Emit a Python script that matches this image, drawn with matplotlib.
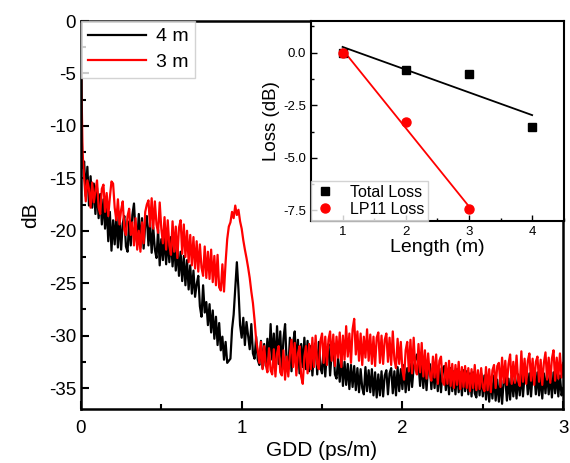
import numpy as np
import matplotlib
matplotlib.use("Agg")
import matplotlib.pyplot as plt
from matplotlib.ticker import MultipleLocator, FormatStrFormatter

plt.rcParams['font.family'] = ['Liberation Sans', 'DejaVu Sans']
plt.rcParams['axes.unicode_minus'] = False

# ---------------- main spectra data (GDD sampled every 0.01 ps/m) ----------------
gdd = np.round(np.arange(0, 301) * 0.01, 2)

db_3m = [
    -3.0, -12.5, -15.0, -17.2, -15.2, -16.0, -17.8, -15.4, -17.3, -16.2,
    -15.2, -17.8, -18.4, -16.0, -15.6, -18.2, -16.4, -18.6, -16.8, -15.3,
    -15.5, -17.8, -19.0, -17.0, -19.4, -18.0, -17.2, -19.9, -20.4, -18.6,
    -17.9, -20.4, -19.2, -21.4, -18.8, -21.8, -20.0, -22.0, -19.2, -21.2,
    -18.2, -17.5, -17.1, -19.6, -16.9, -19.8, -17.2, -19.4, -20.2, -17.3,
    -19.8, -21.2, -18.7, -21.8, -19.0, -21.4, -22.3, -19.1, -22.0, -19.6,
    -22.6, -19.7, -19.0, -22.2, -19.4, -22.5, -20.0, -23.0, -20.4, -23.3,
    -20.6, -23.6, -21.0, -23.9, -21.3, -23.5, -24.3, -21.5, -24.5, -22.0,
    -24.6, -21.8, -24.9, -22.4, -25.2, -22.3, -25.4, -25.7, -23.2, -25.8,
    -23.0, -20.8, -19.6, -19.2, -18.2, -18.8, -17.6, -18.5, -18.0, -19.1,
    -19.8, -20.9, -21.8, -22.6, -23.5, -24.5, -25.8, -26.9, -28.5, -30.4,
    -31.4, -32.6, -30.6, -33.2, -31.0, -32.8, -33.5, -31.2, -33.3, -33.7,
    -31.3, -33.9, -31.7, -31.0, -33.5, -33.8, -31.4, -34.2, -32.0, -33.9,
    -31.8, -30.4, -33.0, -30.7, -33.8, -31.7, -31.0, -33.9, -34.6, -32.0,
    -31.0, -33.6, -30.8, -33.2, -30.2, -33.0, -30.0, -32.7, -33.2, -30.5,
    -29.8, -32.6, -30.1, -32.8, -30.4, -29.6, -32.4, -29.9, -32.9, -30.1,
    -32.1, -29.7, -33.0, -30.0, -32.3, -29.1, -32.0, -29.8, -32.6, -29.4,
    -28.4, -31.8, -29.6, -32.4, -29.8, -32.8, -30.1, -32.1, -29.4, -32.4,
    -29.9, -32.7, -30.1, -32.9, -30.2, -29.7, -32.6, -30.0, -32.7, -30.4,
    -29.8, -32.5, -30.2, -32.8, -29.6, -32.3, -33.1, -30.3, -32.7, -30.6,
    -33.3, -34.2, -31.4, -30.6, -33.4, -30.4, -33.6, -30.2, -33.1, -33.7,
    -30.8, -33.5, -30.7, -33.9, -31.4, -34.1, -31.7, -33.7, -34.3, -32.0,
    -34.0, -31.8, -34.6, -32.4, -32.0, -34.4, -34.7, -32.6, -34.6, -32.4,
    -34.8, -32.7, -35.0, -32.8, -34.7, -32.5, -35.1, -33.0, -34.9, -32.9,
    -35.0, -33.1, -35.3, -33.2, -35.0, -32.8, -35.2, -33.3, -35.1, -33.1,
    -34.9, -35.3, -33.0, -35.2, -33.2, -35.4, -33.3, -32.8, -35.0, -32.9,
    -32.6, -34.9, -32.1, -34.5, -32.4, -34.7, -32.7, -31.8, -34.6, -32.5,
    -34.5, -31.9, -34.3, -34.8, -31.5, -34.4, -32.2, -34.6, -32.4, -31.7,
    -34.3, -32.2, -34.7, -32.5, -32.0, -34.4, -32.3, -34.7, -32.6, -31.6,
    -34.2, -32.1, -34.5, -32.2, -31.4, -34.3, -32.1, -34.1, -31.7, -34.0, -32.6,
]

db_4m = [
    -8.0, -14.0, -13.4, -16.7, -13.9, -17.6, -14.8, -17.8, -15.5, -18.4,
    -15.9, -18.8, -16.5, -19.4, -17.0, -19.8, -17.6, -21.0, -18.2, -21.9,
    -19.0, -21.3, -18.4, -21.6, -18.8, -21.8, -19.3, -18.6, -21.5, -22.0,
    -19.1, -21.4, -18.5, -17.4, -20.3, -21.2, -18.4, -21.6, -18.8, -21.7,
    -19.4, -18.6, -21.4, -19.2, -22.1, -19.7, -21.8, -22.6, -19.9, -23.3,
    -20.8, -22.8, -20.5, -23.2, -20.7, -23.0, -20.6, -23.4, -21.1, -23.8,
    -21.6, -24.3, -22.0, -24.8, -22.4, -25.2, -22.8, -25.6, -23.3, -26.0,
    -23.8, -26.3, -25.1, -24.3, -27.2, -28.2, -25.2, -27.8, -26.8, -29.0,
    -27.0, -29.7, -27.6, -30.3, -28.2, -30.9, -28.8, -31.4, -30.1, -32.3,
    -30.6, -32.6, -32.4, -32.2, -29.4, -28.0, -25.5, -23.0, -25.6, -29.0,
    -30.2, -28.3, -30.9, -28.7, -30.0, -31.3, -28.9, -31.7, -32.2, -30.1,
    -32.3, -32.8, -30.5, -33.1, -30.8, -32.9, -30.3, -32.6, -28.9, -32.3,
    -29.8, -33.0, -29.1, -32.7, -29.6, -33.3, -30.3, -28.9, -32.6, -33.2,
    -30.2, -33.4, -30.7, -29.6, -32.8, -30.4, -33.6, -30.8, -33.0, -30.2,
    -33.2, -30.5, -33.4, -31.0, -33.8, -31.4, -30.7, -33.7, -30.6, -33.1,
    -33.6, -31.1, -33.9, -31.5, -30.8, -33.8, -31.6, -30.7, -33.7, -34.1,
    -32.2, -34.4, -32.0, -34.8, -32.5, -34.7, -32.7, -35.1, -32.8, -34.9,
    -32.9, -35.2, -33.1, -35.4, -33.2, -35.0, -35.6, -33.0, -35.3, -33.3,
    -35.4, -33.2, -35.7, -33.5, -35.9, -33.7, -35.7, -33.4, -35.8, -33.8,
    -33.3, -35.6, -33.6, -33.1, -35.5, -33.4, -35.7, -33.0, -35.3, -33.2,
    -35.1, -32.8, -35.4, -33.1, -35.2, -32.7, -34.9, -33.0, -32.4, -31.8,
    -32.6, -34.8, -32.5, -35.0, -32.8, -35.2, -33.0, -32.7, -35.1, -33.1,
    -35.0, -32.8, -35.3, -33.1, -35.4, -33.2, -32.9, -35.2, -33.3, -35.6,
    -33.1, -35.3, -33.4, -35.6, -33.2, -35.4, -33.5, -35.7, -33.3, -35.3,
    -33.4, -35.6, -33.6, -35.8, -33.5, -35.5, -35.9, -33.7, -35.7, -33.6,
    -35.8, -33.8, -36.1, -34.0, -36.3, -34.1, -36.0, -33.8, -36.2, -34.2,
    -36.3, -34.2, -36.5, -34.3, -34.0, -36.2, -34.1, -36.1, -33.8, -35.8,
    -33.9, -36.0, -33.7, -35.7, -33.5, -35.8, -33.8, -33.3, -35.6, -33.6,
    -35.8, -33.7, -33.4, -35.6, -33.5, -35.7, -33.8, -36.0, -33.6, -35.5,
    -33.4, -35.6, -33.7, -35.9, -33.5, -35.5, -33.6, -35.8, -33.8, -35.7, -35.0,
]

# ---------------- inset data ----------------
length_total = [1, 2, 3, 4]
loss_total = [0.0, -0.85, -1.0, -3.55]
length_lp11 = [1, 2, 3]
loss_lp11 = [0.0, -3.3, -7.45]

# ---------------- figure ----------------
fig = plt.figure(figsize=(5.70, 4.63), dpi=100)
ax = fig.add_axes([0.142, 0.1166, 0.846, 0.838])

ax.plot(gdd, db_4m, color='black', lw=1.6, label='4 m')
ax.plot(gdd, db_3m, color='red', lw=1.6, label='3 m')

ax.set_xlim(0, 3)
ax.set_ylim(-37, 0)
ax.xaxis.set_major_locator(MultipleLocator(1))
ax.xaxis.set_minor_locator(MultipleLocator(0.5))
ax.yaxis.set_major_locator(MultipleLocator(5))
ax.yaxis.set_minor_locator(MultipleLocator(2.5))
ax.tick_params(which='both', direction='in', top=False, right=False,
               labelsize=13.5, width=1.5)
ax.tick_params(which='major', length=6)
ax.tick_params(which='minor', length=3.5)
ax.tick_params(axis='x', pad=8)
for s in ax.spines.values():
    s.set_linewidth(1.8)
ax.set_xlabel('GDD (ps/m)', fontsize=15, labelpad=3)
ax.set_ylabel('dB', fontsize=15, labelpad=6)

leg = ax.legend(loc='upper left', fontsize=14, frameon=True, fancybox=False,
                borderaxespad=0.0, handlelength=3.0, handletextpad=0.5,
                borderpad=0.35, labelspacing=0.4)
leg.get_frame().set_edgecolor('#c8c8c8')
leg.get_frame().set_linewidth(1.0)

# ---------------- inset ----------------
ins = fig.add_axes([0.5456, 0.5227, 0.4434, 0.4319])
pt = np.polyfit(length_total, loss_total, 1)
pl = np.polyfit(length_lp11, loss_lp11, 1)
xt = np.array([min(length_total), max(length_total)])
xl = np.array([min(length_lp11), max(length_lp11)])
ins.plot(xt, np.polyval(pt, xt), color='black', lw=1.3)
ins.plot(xl, np.polyval(pl, xl), color='red', lw=1.3)
ins.plot(length_total, loss_total, 's', color='black', ms=5.5, label='Total Loss')
ins.plot(length_lp11, loss_lp11, 'o', color='red', ms=6.5, label='LP11 Loss')

ins.set_xlim(0.5, 4.5)
ins.set_ylim(-8, 1.5)
ins.xaxis.set_major_locator(MultipleLocator(1))
ins.xaxis.set_minor_locator(MultipleLocator(0.5))
ins.yaxis.set_major_locator(MultipleLocator(2.5))
ins.yaxis.set_minor_locator(MultipleLocator(1.25))
ins.yaxis.set_major_formatter(FormatStrFormatter('%.1f'))
ins.tick_params(which='both', direction='in', labelsize=9.5, width=1.0)
ins.tick_params(which='major', length=4)
ins.tick_params(which='minor', length=2.5)
for s in ins.spines.values():
    s.set_linewidth(1.5)
ins.set_xlabel('Length (m)', fontsize=14, labelpad=1)
ins.set_ylabel('Loss (dB)', fontsize=13.5, labelpad=2)

leg2 = ins.legend(loc='lower left', fontsize=11.5, frameon=True, fancybox=False,
                  borderaxespad=0.0, handlelength=1.2, handletextpad=1.0,
                  borderpad=0.25, labelspacing=0.15)
leg2.get_frame().set_edgecolor('#c8c8c8')
leg2.get_frame().set_linewidth(1.0)

fig.savefig('out.png', dpi=100)
